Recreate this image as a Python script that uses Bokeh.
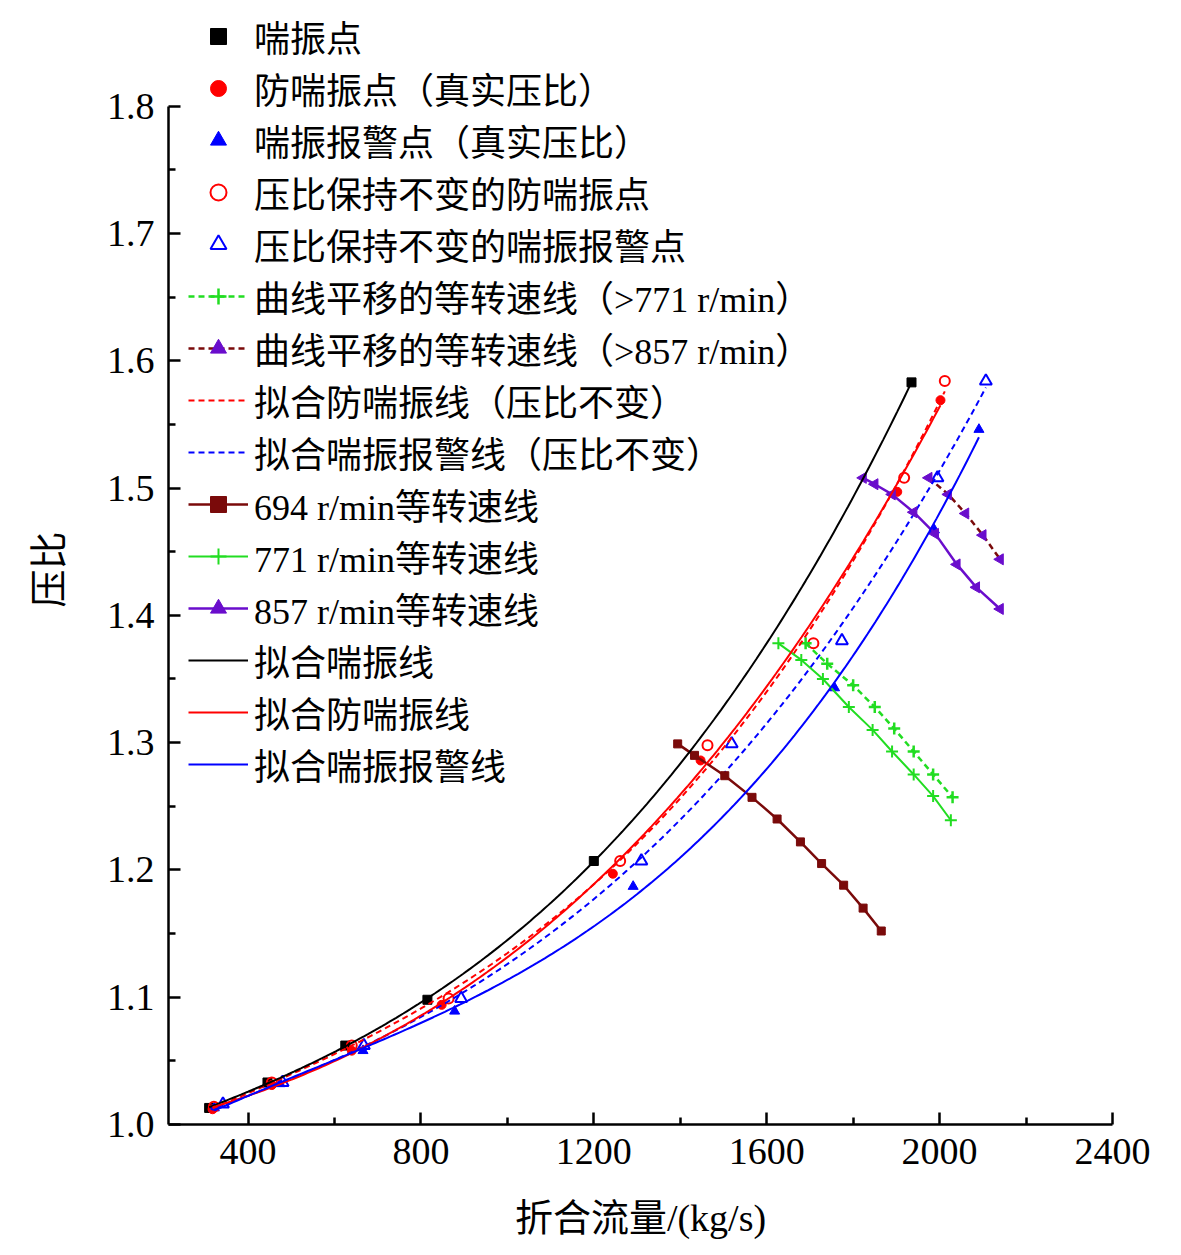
import numpy as np
from bokeh.plotting import figure
from bokeh.models import Range1d, Legend, LegendItem, FixedTicker, CustomJSTickFormatter
from bokeh.embed import file_html
from bokeh.resources import INLINE

# surge points
surge_x = [310, 445, 625, 815, 1200, 1935]
surge_y = [1.013, 1.033, 1.062, 1.098, 1.207, 1.583]
# anti-surge points (real ratio)
anti_x = [318, 455, 640, 848, 1244, 1447, 1902, 2002]
anti_y = [1.012, 1.031, 1.058, 1.094, 1.197, 1.286, 1.497, 1.569]
# surge alarm points (real ratio)
alarm_x = [322, 474, 666, 878, 1291, 1757, 1988, 2091]
alarm_y = [1.013, 1.032, 1.058, 1.089, 1.187, 1.343, 1.467, 1.546]
# anti-surge points, constant ratio
anti_c_x = [321, 455, 640, 864, 1261, 1463, 1708, 1918, 2012]
anti_c_y = [1.014, 1.033, 1.062, 1.099, 1.207, 1.298, 1.378, 1.508, 1.584]
# alarm points, constant ratio
alarm_c_x = [342, 480, 668, 893, 1310, 1519, 1774, 1995, 2107]
alarm_c_y = [1.016, 1.033, 1.062, 1.099, 1.207, 1.299, 1.380, 1.508, 1.584]
# speed lines
s694_x = [1394, 1433, 1503, 1566, 1624, 1678, 1727, 1778, 1823, 1865]
s694_y = [1.299, 1.290, 1.274, 1.257, 1.240, 1.222, 1.205, 1.188, 1.170, 1.152]
s771_x = [1627, 1680, 1730, 1790, 1845, 1890, 1940, 1985, 2026]
s771_y = [1.378, 1.365, 1.350, 1.328, 1.310, 1.293, 1.275, 1.258, 1.239]
s771s_x = [1690, 1740, 1800, 1850, 1895, 1940, 1985, 2030]
s771s_y = [1.378, 1.362, 1.345, 1.328, 1.311, 1.293, 1.275, 1.257]
s857_x = [1823, 1850, 1890, 1940, 1990, 2040, 2085, 2140]
s857_y = [1.508, 1.503, 1.495, 1.481, 1.464, 1.440, 1.422, 1.405]
s857s_x = [1975, 2020, 2060, 2100, 2140]
s857s_y = [1.508, 1.495, 1.480, 1.463, 1.444]

FONT = "Liberation Serif, Noto Sans CJK SC"

p = figure(frame_width=944, frame_height=1110, output_backend="svg", toolbar_location=None,
           x_range=Range1d(216, 2400), y_range=Range1d(1.0, 1.872),
           min_border_left=168, min_border_right=57, min_border_top=14, min_border_bottom=10)
p.outline_line_color = None
p.grid.visible = False
p.background_fill_color = "white"

def fit(xs, ys, x0, x1):
    c = np.polyfit(xs, ys, 3)
    xx = np.linspace(x0, x1, 200)
    return xx, np.polyval(c, xx)

items = []
def add(label, rs):
    items.append(LegendItem(label=label, renderers=rs))

r1 = p.scatter(surge_x, surge_y, marker="square", size=9, color="black")
r2 = p.scatter(anti_x, anti_y, marker="circle", size=9, color="red")
r3 = p.scatter(alarm_x, alarm_y, marker="triangle", size=10, color="blue")
r4 = p.scatter(anti_c_x, anti_c_y, marker="circle", size=10, fill_color=None, line_color="red", line_width=2)
r5 = p.scatter(alarm_c_x, alarm_c_y, marker="triangle", size=12, fill_color=None, line_color="blue", line_width=2)

ga = p.line(s771s_x, s771s_y, color="#22dd22", line_width=2.5, line_dash="6 4")
gb = p.scatter(s771s_x, s771s_y, marker="cross", size=12, color="#22dd22", line_width=2.5)
pa = p.line(s857s_x, s857s_y, color="#7a0a0a", line_width=2.5, line_dash="6 4")
pb = p.scatter(s857s_x, s857s_y, marker="triangle", angle=np.pi/2, size=11, color="#6a0dcc")

xx, yy = fit(anti_c_x, anti_c_y, 318, 2012)
fr = p.line(xx, yy, color="red", line_width=2, line_dash="6 4")
xx, yy = fit(alarm_c_x, alarm_c_y, 330, 2107)
fb = p.line(xx, yy, color="blue", line_width=2, line_dash="6 4")

da = p.line(s694_x, s694_y, color="#7a0a0a", line_width=2.5)
db = p.scatter(s694_x, s694_y, marker="square", size=8, color="#7a0a0a")
ea = p.line(s771_x, s771_y, color="#22dd22", line_width=2)
eb = p.scatter(s771_x, s771_y, marker="cross", size=12, color="#22dd22", line_width=2)
va = p.line(s857_x, s857_y, color="#6a0dcc", line_width=2.5)
vb = p.scatter(s857_x, s857_y, marker="triangle", angle=np.pi/2, size=11, color="#6a0dcc")

xx, yy = fit(surge_x, surge_y, 310, 1935)
sk = p.line(xx, yy, color="black", line_width=2)
xx, yy = fit(anti_x, anti_y, 318, 2002)
sr = p.line(xx, yy, color="red", line_width=2)
xx, yy = fit(alarm_x, alarm_y, 322, 2091)
sb = p.line(xx, yy, color="blue", line_width=2)

add("喘振点", [r1])
add("防喘振点（真实压比）", [r2])
add("喘振报警点（真实压比）", [r3])
add("压比保持不变的防喘振点", [r4])
add("压比保持不变的喘振报警点", [r5])
add("曲线平移的等转速线（>771 r/min）", [ga, gb])
add("曲线平移的等转速线（>857 r/min）", [pa, pb])
add("拟合防喘振线（压比不变）", [fr])
add("拟合喘振报警线（压比不变）", [fb])
add("694 r/min等转速线", [da, db])
add("771 r/min等转速线", [ea, eb])
add("857 r/min等转速线", [va, vb])
add("拟合喘振线", [sk])
add("拟合防喘振线", [sr])
add("拟合喘振报警线", [sb])

leg = Legend(items=items, location=(20, 1110 + 10 - 786), border_line_color=None,
             background_fill_alpha=0, label_text_font=FONT, label_text_font_size="36px",
             label_text_color="black",
             label_height=40, glyph_width=60, glyph_height=40, spacing=0,
             label_standoff=6, padding=0, margin=0)
p.add_layout(leg, "center")

for ax in (p.xaxis[0], p.yaxis[0]):
    ax.major_label_text_font = "Liberation Serif"
    ax.major_label_text_font_size = "38px"
    ax.major_label_text_color = "black"
    ax.axis_label_text_color = "black"
    ax.axis_label_text_font = FONT
    ax.axis_label_text_font_size = "38px"
    ax.axis_label_text_font_style = "normal"
    ax.axis_line_width = 2.5
    ax.major_tick_line_width = 2.5
    ax.minor_tick_line_width = 2.5
    ax.major_tick_in = 12
    ax.major_tick_out = 0
    ax.minor_tick_in = 7
    ax.minor_tick_out = 0

p.xaxis.ticker = FixedTicker(ticks=[400, 800, 1200, 1600, 2000, 2400],
                             minor_ticks=[600, 1000, 1400, 1800, 2200])
p.yaxis.ticker = FixedTicker(ticks=[1.0, 1.1, 1.2, 1.3, 1.4, 1.5, 1.6, 1.7, 1.8],
                             minor_ticks=[1.05, 1.15, 1.25, 1.35, 1.45, 1.55, 1.65, 1.75])
p.yaxis.formatter = CustomJSTickFormatter(code="return tick.toFixed(1);")
p.yaxis.bounds = (1.0, 1.8)
p.xaxis.axis_label = "折合流量/(kg/s)"
p.yaxis.axis_label = "压比"
p.xaxis.major_label_standoff = 14
p.xaxis.axis_label_standoff = 30
p.yaxis.major_label_standoff = 14
p.yaxis.axis_label_standoff = 34

open("out.html", "w").write(file_html(p, INLINE))
